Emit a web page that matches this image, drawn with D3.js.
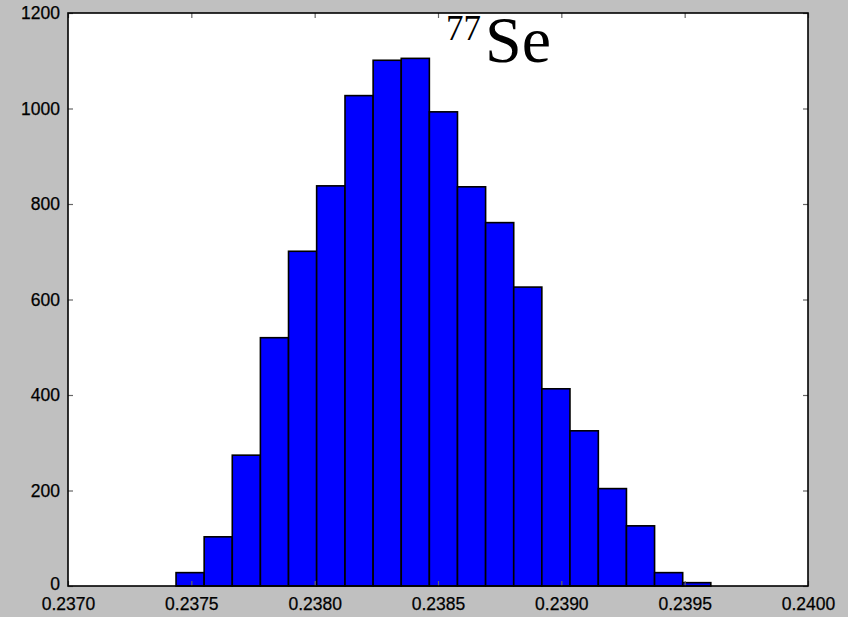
<!DOCTYPE html>
<html>
<head>
<meta charset="utf-8">
<script src="https://cdn.jsdelivr.net/npm/d3@7"></script>
<style>
  html, body { margin: 0; padding: 0; background: #c0c0c0; }
  svg { display: block; }
  .tick text { font-family: "Liberation Sans", Arial, sans-serif; font-size: 17.5px; fill: #000; stroke: #000; stroke-width: 0.25px; }
</style>
</head>
<body>
<svg id="chart" width="848" height="617"></svg>
<script>
// Histogram of simulated 77Se values
const binEdges = [0.237438, 0.237552, 0.237666, 0.237780, 0.237894, 0.238008,
                  0.238123, 0.238237, 0.238351, 0.238465, 0.238579, 0.238693,
                  0.238807, 0.238921, 0.239035, 0.239150, 0.239264, 0.239378,
                  0.239492, 0.239606];
const counts = [28, 103, 274, 520, 701, 838, 1027, 1101, 1105, 993,
                836, 761, 626, 413, 325, 204, 126, 28, 7];
const xTicks = [0.2370, 0.2375, 0.2380, 0.2385, 0.2390, 0.2395, 0.2400];
const yTicks = [0, 200, 400, 600, 800, 1000, 1200];

const bins = counts.map((c, i) => ({ x0: binEdges[i], x1: binEdges[i + 1], count: c }));

const svg = d3.select("#chart");
const plotL = 68, plotR = 808, plotT = 13, plotB = 586;

const x = d3.scaleLinear().domain([0.2370, 0.2400]).range([plotL, plotR]);
const y = d3.scaleLinear().domain([0, 1200]).range([plotB, plotT]);

// plot area
svg.append("rect")
  .attr("x", plotL).attr("y", plotT)
  .attr("width", plotR - plotL).attr("height", plotB - plotT)
  .attr("fill", "#fff");

// bars
svg.append("g").selectAll("rect")
  .data(bins)
  .join("rect")
  .attr("x", d => x(d.x0))
  .attr("y", d => y(d.count))
  .attr("width", d => x(d.x1) - x(d.x0))
  .attr("height", d => y(0) - y(d.count))
  .attr("fill", "#0000ff")
  .attr("stroke", "#000")
  .attr("stroke-width", 1.6);

// axes with inward ticks on all four sides
const fmt = d3.format(".4f");
const styleAxis = g => {
  g.select(".domain").remove();
  g.selectAll(".tick line").attr("stroke", "#666").attr("stroke-width", 1.2);
};

svg.append("g")
  .attr("transform", `translate(0,${plotB})`)
  .call(d3.axisBottom(x).tickValues(xTicks).tickFormat(fmt).tickSizeInner(-5).tickSizeOuter(0).tickPadding(12))
  .call(styleAxis);

svg.append("g")
  .attr("transform", `translate(0,${plotT})`)
  .call(d3.axisTop(x).tickValues(xTicks).tickFormat("").tickSizeInner(-5).tickSizeOuter(0))
  .call(styleAxis);

svg.append("g")
  .attr("transform", `translate(${plotL},0)`)
  .call(d3.axisLeft(y).tickValues(yTicks).tickFormat(d3.format("d")).tickSizeInner(-5).tickSizeOuter(0).tickPadding(8))
  .call(styleAxis)
  .call(g => g.selectAll(".tick").filter(d => d === 0).select("text").attr("dy", "0.2em"));

svg.append("g")
  .attr("transform", `translate(${plotR},0)`)
  .call(d3.axisRight(y).tickValues(yTicks).tickFormat("").tickSizeInner(-5).tickSizeOuter(0))
  .call(styleAxis);

// frame
svg.append("rect")
  .attr("x", plotL).attr("y", plotT)
  .attr("width", plotR - plotL).attr("height", plotB - plotT)
  .attr("fill", "none")
  .attr("stroke", "#000")
  .attr("stroke-width", 1.6);

// isotope label
const label = svg.append("text")
  .attr("x", 446).attr("y", 62)
  .attr("font-family", "'Liberation Serif', 'Times New Roman', serif")
  .attr("fill", "#000");
label.append("tspan").attr("font-size", 35).attr("dy", -22).text("77");
label.append("tspan").attr("font-size", 66).attr("dx", 4).attr("dy", 22).text("Se");
</script>
</body>
</html>
